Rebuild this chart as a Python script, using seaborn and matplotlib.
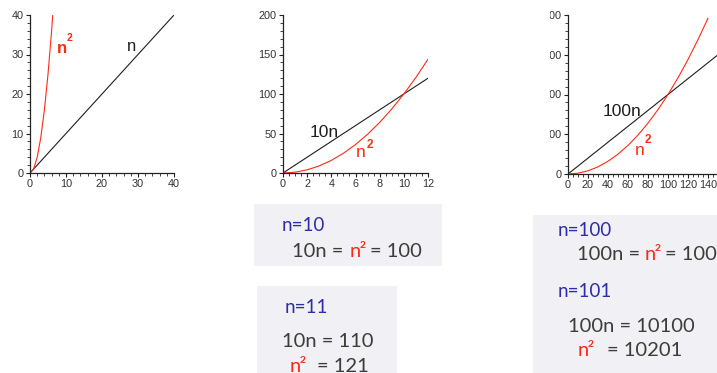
import matplotlib
matplotlib.use("Agg")
import matplotlib.pyplot as plt
import matplotlib.patches as mpatches
from matplotlib.ticker import MultipleLocator
import seaborn as sns

# ---- data ----
# panel 1: n vs n^2 on 0..40
p1_n = [0, 10, 20, 30, 40]
p1_lin = [0, 10, 20, 30, 40]
p1_sq_n = [0, 1, 2, 3, 4, 5, 6, 6.32]
p1_sq = [0, 1, 4, 9, 16, 25, 36, 40]

# panel 2: 10n vs n^2 on 0..12
p2_n = [0, 1, 2, 3, 4, 5, 6, 7, 8, 9, 10, 11, 12]
p2_lin = [0, 10, 20, 30, 40, 50, 60, 70, 80, 90, 100, 110, 120]
p2_sq = [0, 1, 4, 9, 16, 25, 36, 49, 64, 81, 100, 121, 144]

# panel 3: 100n vs n^2 on 0..150
p3_n = [0, 10, 20, 30, 40, 50, 60, 70, 80, 90, 100, 110, 120, 130, 140, 150]
p3_lin = [0, 1000, 2000, 3000, 4000, 5000, 6000, 7000, 8000, 9000, 10000,
          11000, 12000, 13000, 14000, 15000]
p3_sq_n = [0, 10, 20, 30, 40, 50, 60, 70, 80, 90, 100, 110, 120, 130, 140]
p3_sq = [0, 100, 400, 900, 1600, 2500, 3600, 4900, 6400, 8100, 10000,
         12100, 14400, 16900, 19600]

BLACK = "#1e1e1e"
RED = "#ff2a14"
BLUE = "#2d2da6"
GREY = "#3c3c38"
BOX = "#f0f0f5"
W, H = 717, 373

sns.set_style("ticks")
plt.rcParams["font.family"] = ["Liberation Sans", "DejaVu Sans"]

fig = plt.figure(figsize=(W / 100, H / 100), dpi=100)


def px_axes(l, t, r, b):
    return fig.add_axes([l / W, 1 - b / H, (r - l) / W, (b - t) / H])


def ftext(x, y, s, **kw):
    fig.text(x / W, 1 - y / H, s, va="baseline", **kw)


def style(ax, xmaj, xmin, ymaj, ymin, xlim, ylim):
    ax.set_xlim(*xlim)
    ax.set_ylim(*ylim)
    ax.xaxis.set_major_locator(MultipleLocator(xmaj))
    ax.xaxis.set_minor_locator(MultipleLocator(xmin))
    ax.yaxis.set_major_locator(MultipleLocator(ymaj))
    ax.yaxis.set_minor_locator(MultipleLocator(ymin))
    sns.despine(ax=ax)
    for s in ["left", "bottom"]:
        ax.spines[s].set_linewidth(0.9)
        ax.spines[s].set_color("#222222")
    ax.tick_params(which="major", length=3, width=0.8, labelsize=7.8,
                   pad=1.5, colors="#222222", labelcolor="#333333")
    ax.tick_params(which="minor", length=2, width=0.6, colors="#222222")
    ax.set_xlabel("")
    ax.set_ylabel("")
    ax.patch.set_alpha(0)


lkw = dict(linewidth=0.8, legend=False)

# panel 1
ax1 = px_axes(30, 15, 174, 173)
sns.lineplot(x=p1_n, y=p1_lin, color=BLACK, ax=ax1, **lkw)
sns.lineplot(x=p1_sq_n, y=p1_sq, color=RED, ax=ax1, **lkw)
style(ax1, 10, 2, 10, 2, (0, 40), (0, 40))
ax1.text(7.6, 30.4, "n", color=RED, fontsize=12, fontweight="bold")
ax1.text(10.3, 33.4, "2", color=RED, fontsize=7.5, fontweight="bold")
ax1.text(26.8, 30.8, "n", color=BLACK, fontsize=12)

# panel 2
ax2 = px_axes(283, 15, 428, 173)
sns.lineplot(x=p2_n, y=p2_lin, color=BLACK, ax=ax2, **lkw)
sns.lineplot(x=p2_n, y=p2_sq, color=RED, ax=ax2, **lkw)
style(ax2, 2, 0.5, 50, 10, (0, 12), (0, 200))
ax2.text(2.2, 45, "10n", color=BLACK, fontsize=12.5)
ax2.text(6.0, 20, "n", color=RED, fontsize=12.5)
ax2.text(6.95, 32, "2", color=RED, fontsize=8.5, fontweight="bold")

# panel 3
ax3 = px_axes(568, 15, 718, 174)
sns.lineplot(x=p3_n, y=p3_lin, color=BLACK, ax=ax3, **lkw)
sns.lineplot(x=p3_sq_n, y=p3_sq, color=RED, ax=ax3, **lkw)
style(ax3, 20, 5, 5000, 1000, (0, 150), (0, 20000))
ax3.text(35, 7250, "100n", color=BLACK, fontsize=12.5)
ax3.text(67, 2400, "n", color=RED, fontsize=12.5)
ax3.text(76.5, 3900, "2", color=RED, fontsize=8.5, fontweight="bold")

# panel 3 is cropped on its left side in the source
fig.add_artist(mpatches.Rectangle((445 / W, 1 - 200 / H), 105 / W, 200 / H,
                                  transform=fig.transFigure, facecolor="white",
                                  edgecolor="none", zorder=10))

# text boxes
for (l, t, r, b) in [(254, 204, 442, 266), (257, 286, 397, 380), (533, 215, 720, 380)]:
    fig.add_artist(mpatches.Rectangle((l / W, 1 - b / H), (r - l) / W, (b - t) / H,
                                      transform=fig.transFigure, facecolor=BOX,
                                      edgecolor="none", zorder=11))

tk = dict(family=["Lato", "DejaVu Sans"], zorder=12)
big = 14.5
sml = 13.5

# box 1
ftext(282, 231, "n=10", color=BLUE, fontsize=sml, **tk)
ftext(292, 257, "10n =", color=GREY, fontsize=big, **tk)
ftext(350, 257, "n", color=RED, fontsize=big, **tk)
ftext(360, 248, "2", color=RED, fontsize=7.5, fontweight="bold", **tk)
ftext(370, 257, "= 100", color=GREY, fontsize=big, **tk)

# box 2
ftext(285, 313, "n=11", color=BLUE, fontsize=sml, **tk)
ftext(282, 347, "10n = 110", color=GREY, fontsize=big, **tk)
ftext(290, 372, "n", color=RED, fontsize=big, **tk)
ftext(300, 363, "2", color=RED, fontsize=7.5, fontweight="bold", **tk)
ftext(317, 372, "= 121", color=GREY, fontsize=big, **tk)

# box 3
ftext(558, 236, "n=100", color=BLUE, fontsize=sml, **tk)
ftext(577, 260, "100n =", color=GREY, fontsize=big, **tk)
ftext(645, 260, "n", color=RED, fontsize=big, **tk)
ftext(655, 251, "2", color=RED, fontsize=7.5, fontweight="bold", **tk)
ftext(665, 260, "= 10000", color=GREY, fontsize=big, **tk)
ftext(558, 297, "n=101", color=BLUE, fontsize=sml, **tk)
ftext(568, 332, "100n = 10100", color=GREY, fontsize=big, **tk)
ftext(578, 356, "n", color=RED, fontsize=big, **tk)
ftext(588, 347, "2", color=RED, fontsize=7.5, fontweight="bold", **tk)
ftext(607, 356, "= 10201", color=GREY, fontsize=big, **tk)

fig.savefig("out.png", dpi=100, facecolor="white")
